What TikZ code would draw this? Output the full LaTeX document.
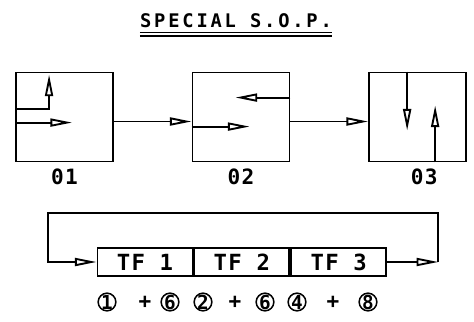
\documentclass[tikz,border=0pt]{standalone}
\usepackage{fontspec}
\setmainfont{DejaVu Sans Mono}[LetterSpace=6]
\usepackage{tikz}
\usetikzlibrary{positioning, arrows.meta, calc}

\begin{document}
\begin{tikzpicture}[node distance=2.33cm, >={Triangle[open, length=6.5mm, width=2.4mm]}]

  \tikzstyle{stagebox} = [
    draw, line width=1.6pt,
    minimum width=2.91cm, minimum height=2.67cm,
    inner sep=0pt
  ]
  \tikzstyle{stagelabel} = [inner sep=0pt, font=\fontsize{18}{18}\selectfont\bfseries]
  \tikzstyle{tfcell} = [
    draw, line width=1.6pt,
    minimum width=2.85cm, minimum height=0.85cm,
    inner sep=0pt, font=\fontsize{19}{19}\selectfont\bfseries
  ]
  \tikzstyle{circnum} = [
    circle, draw, line width=1.3pt,
    minimum size=0.53cm, inner sep=-2pt,
    font=\fontsize{16.5}{16.5}\selectfont\bfseries\addfontfeatures{LetterSpace=0}
  ]
  \tikzstyle{plussign} = [inner sep=0pt, font=\fontsize{18}{18}\selectfont\bfseries\addfontfeatures{LetterSpace=0}]
  \tikzstyle{flow} = [->, line width=1.6pt]

  \useasboundingbox (0,0) rectangle (14.22,-9.63);

  \node[inner sep=0pt, font=\fontsize{16}{16}\selectfont\bfseries\addfontfeatures{LetterSpace=15}] (title)
    at (7.08,-0.63) {SPECIAL S.O.P.};
  \draw[line width=0.9pt] ([yshift=-0.12cm]title.south west) -- ([yshift=-0.12cm]title.south east);
  \draw[line width=1.7pt] ([yshift=-0.23cm]title.south west) -- ([yshift=-0.23cm]title.south east);

  \node[stagebox] (b1) at (1.935,-3.51) {};
  \node[stagebox, right=of b1] (b2) {};
  \node[stagebox, right=of b2] (b3) {};

  \node[stagelabel, below=0.18cm of b1] (l1) {01};
  \node[stagelabel, below=0.18cm of b2] (l2) {02};
  \node[stagelabel, below=0.18cm of b3, xshift=0.2cm] (l3) {03};

  \draw[flow] ([yshift=-0.135cm]b1.east) -- ([yshift=-0.135cm]b2.west);
  \draw[flow] ([yshift=-0.135cm]b2.east) -- ([yshift=-0.135cm]b3.west);

  \coordinate (b1up) at ([xshift=1.02cm, yshift=-0.09cm]b1.north west);
  \coordinate (b1in) at ([xshift=1.71cm, yshift=-1.53cm]b1.north west);
  \coordinate (b2in) at ([xshift=1.74cm, yshift=-1.65cm]b2.north west);
  \coordinate (b2back) at ([xshift=-1.65cm, yshift=-0.78cm]b2.north east);
  \coordinate (b3down) at ([xshift=1.17cm, yshift=-1.77cm]b3.north west);
  \coordinate (b3up) at ([xshift=2.01cm, yshift=1.71cm]b3.south west);

  \draw[flow] ([yshift=-1.11cm]b1.north west) -| (b1up);
  \draw[flow] ([yshift=-1.53cm]b1.north west) -- (b1in);
  \draw[flow] ([yshift=-1.65cm]b2.north west) -- (b2in);
  \draw[flow] ([yshift=-0.78cm]b2.north east) -- (b2back);
  \draw[flow] ([xshift=1.17cm]b3.north west) -- (b3down);
  \draw[flow] ([xshift=2.01cm]b3.south west) -- (b3up);

  \node[tfcell] (tf1) at (4.35,-7.86) {TF 1};
  \node[tfcell, right=0pt of tf1] (tf2) {TF 2};
  \node[tfcell, right=0pt of tf2] (tf3) {TF 3};

  \coordinate[right=1.53cm of tf3] (loopr);
  \coordinate[left=1.47cm of tf1] (loopl);
  \draw[flow] (tf3) -- (loopr);
  \draw[flow] (loopr) -- ++(0,1.47) -| (loopl) -- (tf1);

  \node[circnum] (n1) at (3.21,-9.06) {1};
  \node[plussign] (p1) at (4.35,-9.06) {+};
  \node[circnum] (n2) at (5.10,-9.06) {6};
  \node[circnum] (n3) at (6.09,-9.06) {2};
  \node[plussign] (p2) at (7.05,-9.06) {+};
  \node[circnum] (n4) at (7.95,-9.06) {6};
  \node[circnum] (n5) at (8.91,-9.06) {4};
  \node[plussign] (p3) at (9.99,-9.06) {+};
  \node[circnum] (n6) at (11.04,-9.06) {8};

\end{tikzpicture}
\end{document}
